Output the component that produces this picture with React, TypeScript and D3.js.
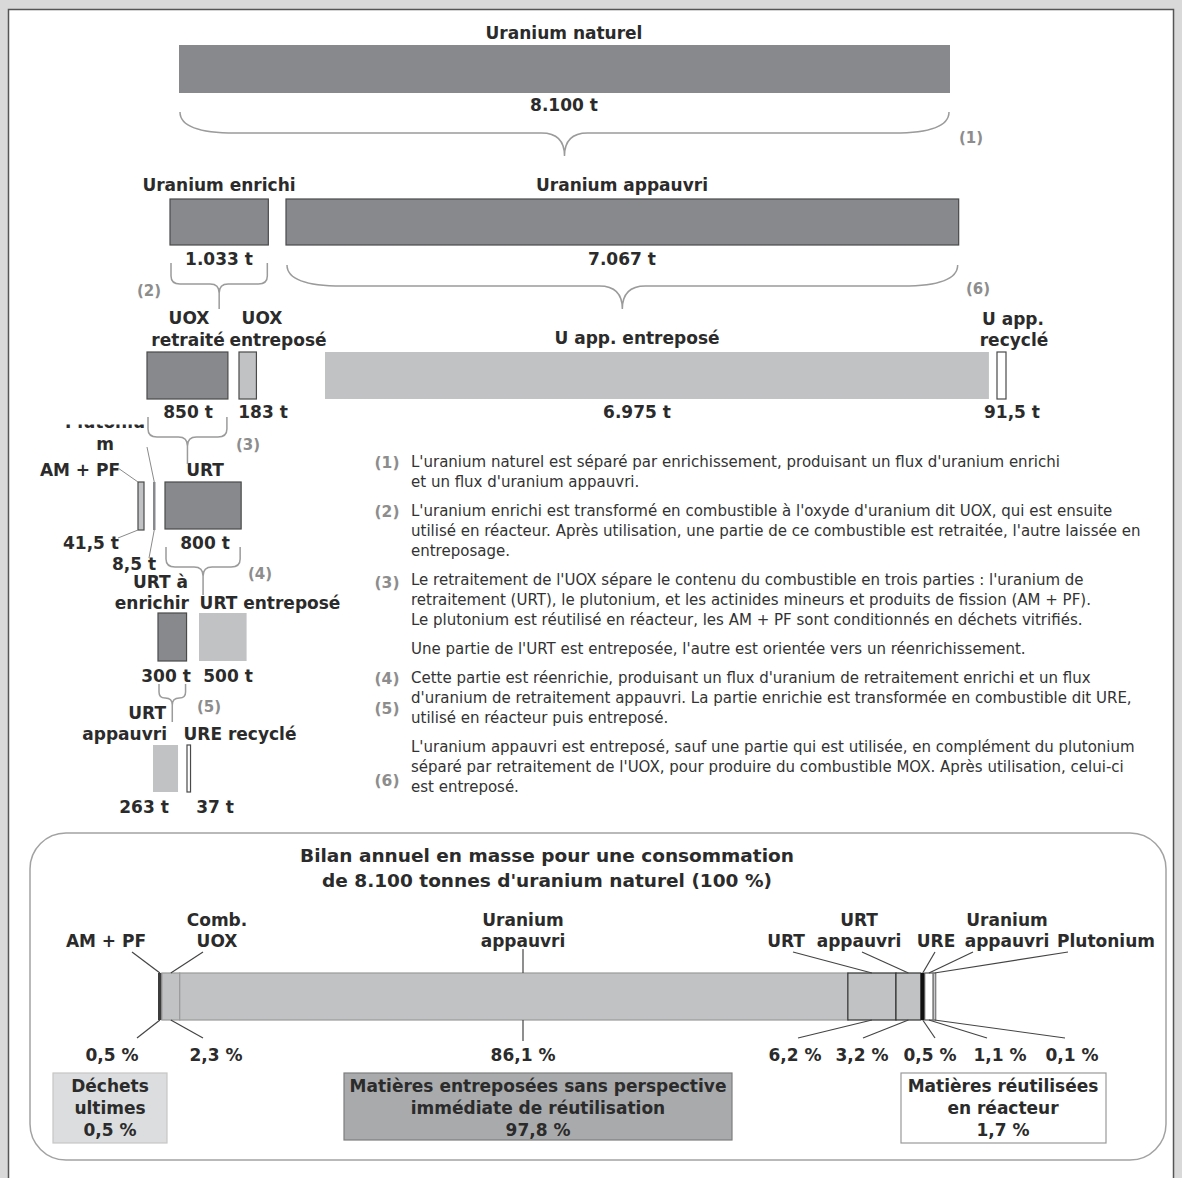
import { useEffect, useRef } from 'react';
import * as d3 from 'd3';

// Flux annuels (tonnes)
const flowIds = ['naturel', 'enrichi', 'appauvri', 'uoxRetraite', 'uoxEntrepose', 'uAppEntrepose', 'uAppRecycle', 'amPf', 'plutonium', 'urt', 'urtEnrichir', 'urtEntrepose', 'urtAppauvri', 'ureRecycle'];
const flowTonnes = [8100, 1033, 7067, 850, 183, 6975, 91.5, 41.5, 8.5, 800, 300, 500, 263, 37];
const flowValueLabels = ['8.100 t', '1.033 t', '7.067 t', '850 t', '183 t', '6.975 t', '91,5 t', '41,5 t', '8,5 t', '800 t', '300 t', '500 t', '263 t', '37 t'];
const flowTitles = [
  ['Uranium naturel'], ['Uranium enrichi'], ['Uranium appauvri'],
  ['UOX', 'retraité'], ['UOX', 'entreposé'], ['U app. entreposé'], ['U app.', 'recyclé'],
  ['AM + PF'], ['Plutoniu', 'm'], ['URT'],
  ['URT à', 'enrichir'], ['URT entreposé'], ['URT', 'appauvri'], ['URE recyclé'],
];

// Bilan en % de l'uranium naturel
const bilanLabels = [['AM + PF'], ['Comb.', 'UOX'], ['Uranium', 'appauvri'], ['URT'], ['URT', 'appauvri'], ['URE'], ['Uranium', 'appauvri'], ['Plutonium']];
const bilanPercent = [0.5, 2.3, 86.1, 6.2, 3.2, 0.5, 1.1, 0.1];
const bilanPercentLabels = ['0,5 %', '2,3 %', '86,1 %', '6,2 %', '3,2 %', '0,5 %', '1,1 %', '0,1 %'];

const summaryLabels = [['Déchets', 'ultimes'], ['Matières entreposées sans perspective', 'immédiate de réutilisation'], ['Matières réutilisées', 'en réacteur']];
const summaryPercentLabels = ['0,5 %', '97,8 %', '1,7 %'];

const bilanTitle = ['Bilan annuel en masse pour une consommation', "de 8.100 tonnes d'uranium naturel (100 %)"];

const noteParagraphs = [
  ["L'uranium naturel est séparé par enrichissement, produisant un flux d'uranium enrichi", "et un flux d'uranium appauvri."],
  ["L'uranium enrichi est transformé en combustible à l'oxyde d'uranium dit UOX, qui est ensuite", "utilisé en réacteur. Après utilisation, une partie de ce combustible est retraitée, l'autre laissée en", 'entreposage.'],
  ["Le retraitement de l'UOX sépare le contenu du combustible en trois parties : l'uranium de", 'retraitement (URT), le plutonium, et les actinides mineurs et produits de fission (AM + PF).', 'Le plutonium est réutilisé en réacteur, les AM + PF sont conditionnés en déchets vitrifiés.'],
  ["Une partie de l'URT est entreposée, l'autre est orientée vers un réenrichissement."],
  ["Cette partie est réenrichie, produisant un flux d'uranium de retraitement enrichi et un flux", "d'uranium de retraitement appauvri. La partie enrichie est transformée en combustible dit URE,", 'utilisé en réacteur puis entreposé.'],
  ["L'uranium appauvri est entreposé, sauf une partie qui est utilisée, en complément du plutonium", "séparé par retraitement de l'UOX, pour produire du combustible MOX. Après utilisation, celui-ci", 'est entreposé.'],
];
// marker, paragraph, line offset
const noteMarkers: [string, number, number][] = [['(1)', 0, 0], ['(2)', 1, 0], ['(3)', 2, 0.1], ['(4)', 4, 0], ['(5)', 4, 1.5], ['(6)', 5, 1.65]];

const FONT = '"DejaVu Sans", Verdana, sans-serif';
const TEXT = '#2b2b2b';
const MARK = '#8d8d8d';
const LABEL_SIZE = 17;
const FILL: Record<string, string> = { dark: '#88898c', light: '#c1c2c4', white: '#ffffff' };

type Anchor = 'start' | 'middle' | 'end';
interface NodeLayout {
  x: number; y: number; h: number; kind: string; border: boolean; minW?: number;
  title: [number, number, Anchor?][]; value: [number, number];
}

const nodeLayout: Record<string, NodeLayout> = {
  naturel: { x: 179, y: 45, h: 48, kind: 'dark', border: false, title: [[564, 39]], value: [564, 111] },
  enrichi: { x: 170, y: 199, h: 46, kind: 'dark', border: true, title: [[219, 191]], value: [219, 265] },
  appauvri: { x: 286, y: 199, h: 46, kind: 'dark', border: true, title: [[622, 191]], value: [622, 265] },
  uoxRetraite: { x: 147, y: 352, h: 47, kind: 'dark', border: true, title: [[189, 324], [188, 346]], value: [188, 418] },
  uoxEntrepose: { x: 239, y: 352, h: 47, kind: 'light', border: true, title: [[262, 324], [278, 346]], value: [263, 418] },
  uAppEntrepose: { x: 325, y: 352, h: 47, kind: 'light', border: false, title: [[637, 344]], value: [637, 418] },
  uAppRecycle: { x: 997, y: 352, h: 47, kind: 'white', border: true, minW: 9, title: [[1013, 325], [1014, 346]], value: [1012, 418] },
  amPf: { x: 138, y: 482, h: 48, kind: 'light', border: true, minW: 6, title: [[80, 476]], value: [91, 549] },
  plutonium: { x: 153, y: 482, h: 48, kind: 'dark', border: false, minW: 2.5, title: [[105, 428], [105, 450]], value: [134, 570] },
  urt: { x: 165, y: 482, h: 47, kind: 'dark', border: true, title: [[205, 476]], value: [205, 549] },
  urtEnrichir: { x: 158, y: 613, h: 48, kind: 'dark', border: true, title: [[188, 588, 'end'], [189, 609, 'end']], value: [166, 682] },
  urtEntrepose: { x: 199, y: 613, h: 48, kind: 'light', border: false, title: [[270, 609]], value: [228, 682] },
  urtAppauvri: { x: 153, y: 745, h: 47, kind: 'light', border: false, title: [[166, 719, 'end'], [167, 740, 'end']], value: [144, 813] },
  ureRecycle: { x: 187, y: 745, h: 47, kind: 'white', border: true, minW: 3.5, title: [[240, 740]], value: [215, 813] },
};

const braceLayout = [
  { node: 'naturel', y0: 112, ym: 133, yt: 156, rx: 55, ry: 21, tip: 23, marker: '(1)', mx: 971, my: 143 },
  { node: 'enrichi', y0: 263, ym: 284, yt: 309, rx: 9, ry: 8, tip: 9, marker: '(2)', mx: 149, my: 296 },
  { node: 'appauvri', y0: 265, ym: 286, yt: 309, rx: 55, ry: 21, tip: 23, marker: '(6)', mx: 978, my: 294 },
  { node: 'uoxRetraite', y0: 417, ym: 437, yt: 464, rx: 9, ry: 8, tip: 9, marker: '(3)', mx: 248, my: 450 },
  { node: 'urt', y0: 547, ym: 567, yt: 595, rx: 9, ry: 8, tip: 9, marker: '(4)', mx: 260, my: 579 },
  { node: 'urtEnrichir', y0: 684, ym: 698, yt: 722, rx: 6, ry: 6, tip: 7, marker: '(5)', mx: 209, my: 712 },
];

// bilan bar layout
const bilanBar = { y: 973, h: 47, x0: 158, x1: 934 };
const bilanFill = ['#3c3c3c', '#c1c2c4', '#c1c2c4', '#c1c2c4', '#c1c2c4', '#111111', '#ffffff', '#c9cacc'];
const bilanStroke = ['none', '#9a9a9a', '#9a9a9a', '#333333', '#333333', 'none', '#555555', '#777777'];
const bilanLabelX = [106, 217, 523, 786, 859, 936, 1007, 1106];
const bilanLeadTopX = [132, 203, 523, 793, 862, 935, 973, 1068];
const bilanLeadBottomX = [137, 203, 523, 798, 863, 935, 987, 1065];
const bilanPercentX = [112, 216, 523, 795, 862, 930, 1000, 1072];

const summaryBoxes = [
  { x: 53, y: 1073, w: 114, h: 70, fill: '#dcdddf', stroke: '#c6c6c6', cx: 110 },
  { x: 344, y: 1073, w: 388, h: 67, fill: '#a9aaac', stroke: '#7e7e7e', cx: 538 },
  { x: 901, y: 1073, w: 205, h: 70, fill: '#ffffff', stroke: '#999999', cx: 1003 },
];

export default function App() {
  const svgRef = useRef<SVGSVGElement>(null);
  const width = 1182;
  const height = 1178;

  useEffect(() => {
    if (!svgRef.current) return;
    document.body.style.margin = '0';
    const svg = d3.select(svgRef.current);
    svg.selectAll('*').remove();

    // frame
    svg.append('rect').attr('width', width).attr('height', height).attr('fill', '#d9d9d9');
    svg.append('rect')
      .attr('x', 8.5).attr('y', 9.5).attr('width', 1165).attr('height', 1190)
      .attr('fill', '#fff').attr('stroke', '#555').attr('stroke-width', 1.5);

    const g = svg.append('g').style('font-family', FONT);

    const label = (x: number, y: number, txt: string, size = LABEL_SIZE, anchor: Anchor = 'middle', weight = 'bold', color = TEXT) =>
      g.append('text')
        .attr('x', x).attr('y', y)
        .attr('text-anchor', anchor)
        .style('font-size', `${size}px`)
        .style('font-weight', weight)
        .attr('fill', color)
        .text(txt);

    // tonnes -> pixels
    const tScale = d3.scaleLinear().domain([0, 8100]).range([0, 771]);
    const widthOf = (i: number) => Math.max(tScale(flowTonnes[i]), nodeLayout[flowIds[i]].minW ?? 0);

    // clip for the half-hidden "Plutonium" label
    svg.append('defs').append('clipPath').attr('id', 'puClip')
      .append('rect').attr('x', 40).attr('y', 424.5).attr('width', 120).attr('height', 30);

    flowIds.forEach((id, i) => {
      const L = nodeLayout[id];
      const w = widthOf(i);
      g.append('rect')
        .attr('x', L.x).attr('y', L.y)
        .attr('width', w).attr('height', L.h)
        .attr('fill', FILL[L.kind])
        .attr('stroke', L.border ? '#4a4a4a' : 'none')
        .attr('stroke-width', 1.2);

      flowTitles[i].forEach((line, j) => {
        const [tx, ty, anchor] = L.title[j];
        const t = label(tx, ty, line, LABEL_SIZE, anchor ?? 'middle');
        if (id === 'plutonium' && j === 0) t.attr('clip-path', 'url(#puClip)');
      });
      label(L.value[0], L.value[1], flowValueLabels[i]);
    });

    // leader lines for AM + PF and plutonium
    const lead = g.append('g').attr('stroke', '#8a8a8a').attr('stroke-width', 1).attr('fill', 'none');
    const am = nodeLayout.amPf;
    const pu = nodeLayout.plutonium;
    const puX = pu.x + widthOf(flowIds.indexOf('plutonium')) / 2;
    lead.append('line').attr('x1', 118).attr('y1', 468).attr('x2', am.x).attr('y2', am.y);
    lead.append('line').attr('x1', 118).attr('y1', 538).attr('x2', am.x).attr('y2', am.y + am.h);
    lead.append('line').attr('x1', 147).attr('y1', 447).attr('x2', puX).attr('y2', pu.y);
    lead.append('line').attr('x1', puX).attr('y1', pu.y + pu.h).attr('x2', 149).attr('y2', 558);

    // braces
    braceLayout.forEach(b => {
      const idx = flowIds.indexOf(b.node);
      const L = nodeLayout[b.node];
      const x0 = L.x + 1;
      const x1 = L.x + widthOf(idx) - 1;
      const xc = (x0 + x1) / 2;
      const p = d3.path();
      p.moveTo(x0, b.y0);
      p.lineTo(x0, b.ym - b.ry);
      p.quadraticCurveTo(x0, b.ym, x0 + b.rx, b.ym);
      p.lineTo(xc - b.tip, b.ym);
      p.quadraticCurveTo(xc, b.ym, xc, Math.min(b.ym + b.tip, b.yt));
      p.lineTo(xc, b.yt);
      p.moveTo(xc, Math.min(b.ym + b.tip, b.yt));
      p.quadraticCurveTo(xc, b.ym, xc + b.tip, b.ym);
      p.lineTo(x1 - b.rx, b.ym);
      p.quadraticCurveTo(x1, b.ym, x1, b.ym - b.ry);
      p.lineTo(x1, b.y0);
      g.append('path').attr('d', p.toString())
        .attr('fill', 'none').attr('stroke', '#9b9b9b').attr('stroke-width', 1.5);
      label(b.mx, b.my, b.marker, 15, 'middle', 'bold', MARK);
    });

    // notes
    const noteX = 411;
    const lineStep = 20;
    const paraStep = 29;
    const paraStart: number[] = [];
    let yCursor = 467;
    noteParagraphs.forEach(para => {
      paraStart.push(yCursor);
      para.forEach((line, li) => label(noteX, yCursor + li * lineStep, line, 15, 'start', 'normal', '#333'));
      yCursor += (para.length - 1) * lineStep + paraStep;
    });
    noteMarkers.forEach(([m, pi, off]) => {
      label(387, paraStart[pi] + off * lineStep + 1, m, 15.5, 'middle', 'bold', MARK);
    });

    // bilan box
    g.append('rect')
      .attr('x', 30).attr('y', 833).attr('width', 1136).attr('height', 327)
      .attr('rx', 36).attr('ry', 36)
      .attr('fill', 'none').attr('stroke', '#a2a2a2').attr('stroke-width', 1.5);
    bilanTitle.forEach((t, i) => label(547, 862 + i * 25, t, 18.5));

    const pScale = d3.scaleLinear().domain([0, 100]).range([bilanBar.x0, bilanBar.x1]);
    const starts = [0, ...Array.from(d3.cumsum(bilanPercent))];
    const bl = g.append('g').attr('stroke', '#444').attr('stroke-width', 1.2);
    bilanPercent.forEach((v, i) => {
      const xs = pScale(starts[i]);
      const w = Math.max(pScale(v) - pScale(0), 2.5);
      g.append('rect')
        .attr('x', xs).attr('y', bilanBar.y)
        .attr('width', w).attr('height', bilanBar.h)
        .attr('fill', bilanFill[i])
        .attr('stroke', bilanStroke[i])
        .attr('stroke-width', 1.2);
      const anchorX = i === 2 ? bilanLabelX[i] : xs + w / 2;
      const vertical = i === 2;
      bl.append('line')
        .attr('x1', bilanLeadTopX[i]).attr('y1', vertical ? 949 : 952)
        .attr('x2', anchorX).attr('y2', bilanBar.y);
      bl.append('line')
        .attr('x1', anchorX).attr('y1', bilanBar.y + bilanBar.h)
        .attr('x2', bilanLeadBottomX[i]).attr('y2', vertical ? 1041 : 1038);
      const lines = bilanLabels[i];
      lines.forEach((t, j) => label(bilanLabelX[i], 947 - (lines.length - 1 - j) * 21, t));
      label(bilanPercentX[i], 1061, bilanPercentLabels[i]);
    });
    bl.raise();

    summaryBoxes.forEach((b, i) => {
      g.append('rect')
        .attr('x', b.x).attr('y', b.y).attr('width', b.w).attr('height', b.h)
        .attr('fill', b.fill).attr('stroke', b.stroke).attr('stroke-width', 1.2);
      summaryLabels[i].forEach((t, j) => label(b.cx, 1092 + j * 22, t));
      label(b.cx, 1092 + summaryLabels[i].length * 22, summaryPercentLabels[i]);
    });
  }, []);

  return <svg ref={svgRef} width={width} height={height} style={{ display: 'block' }} />;
}
